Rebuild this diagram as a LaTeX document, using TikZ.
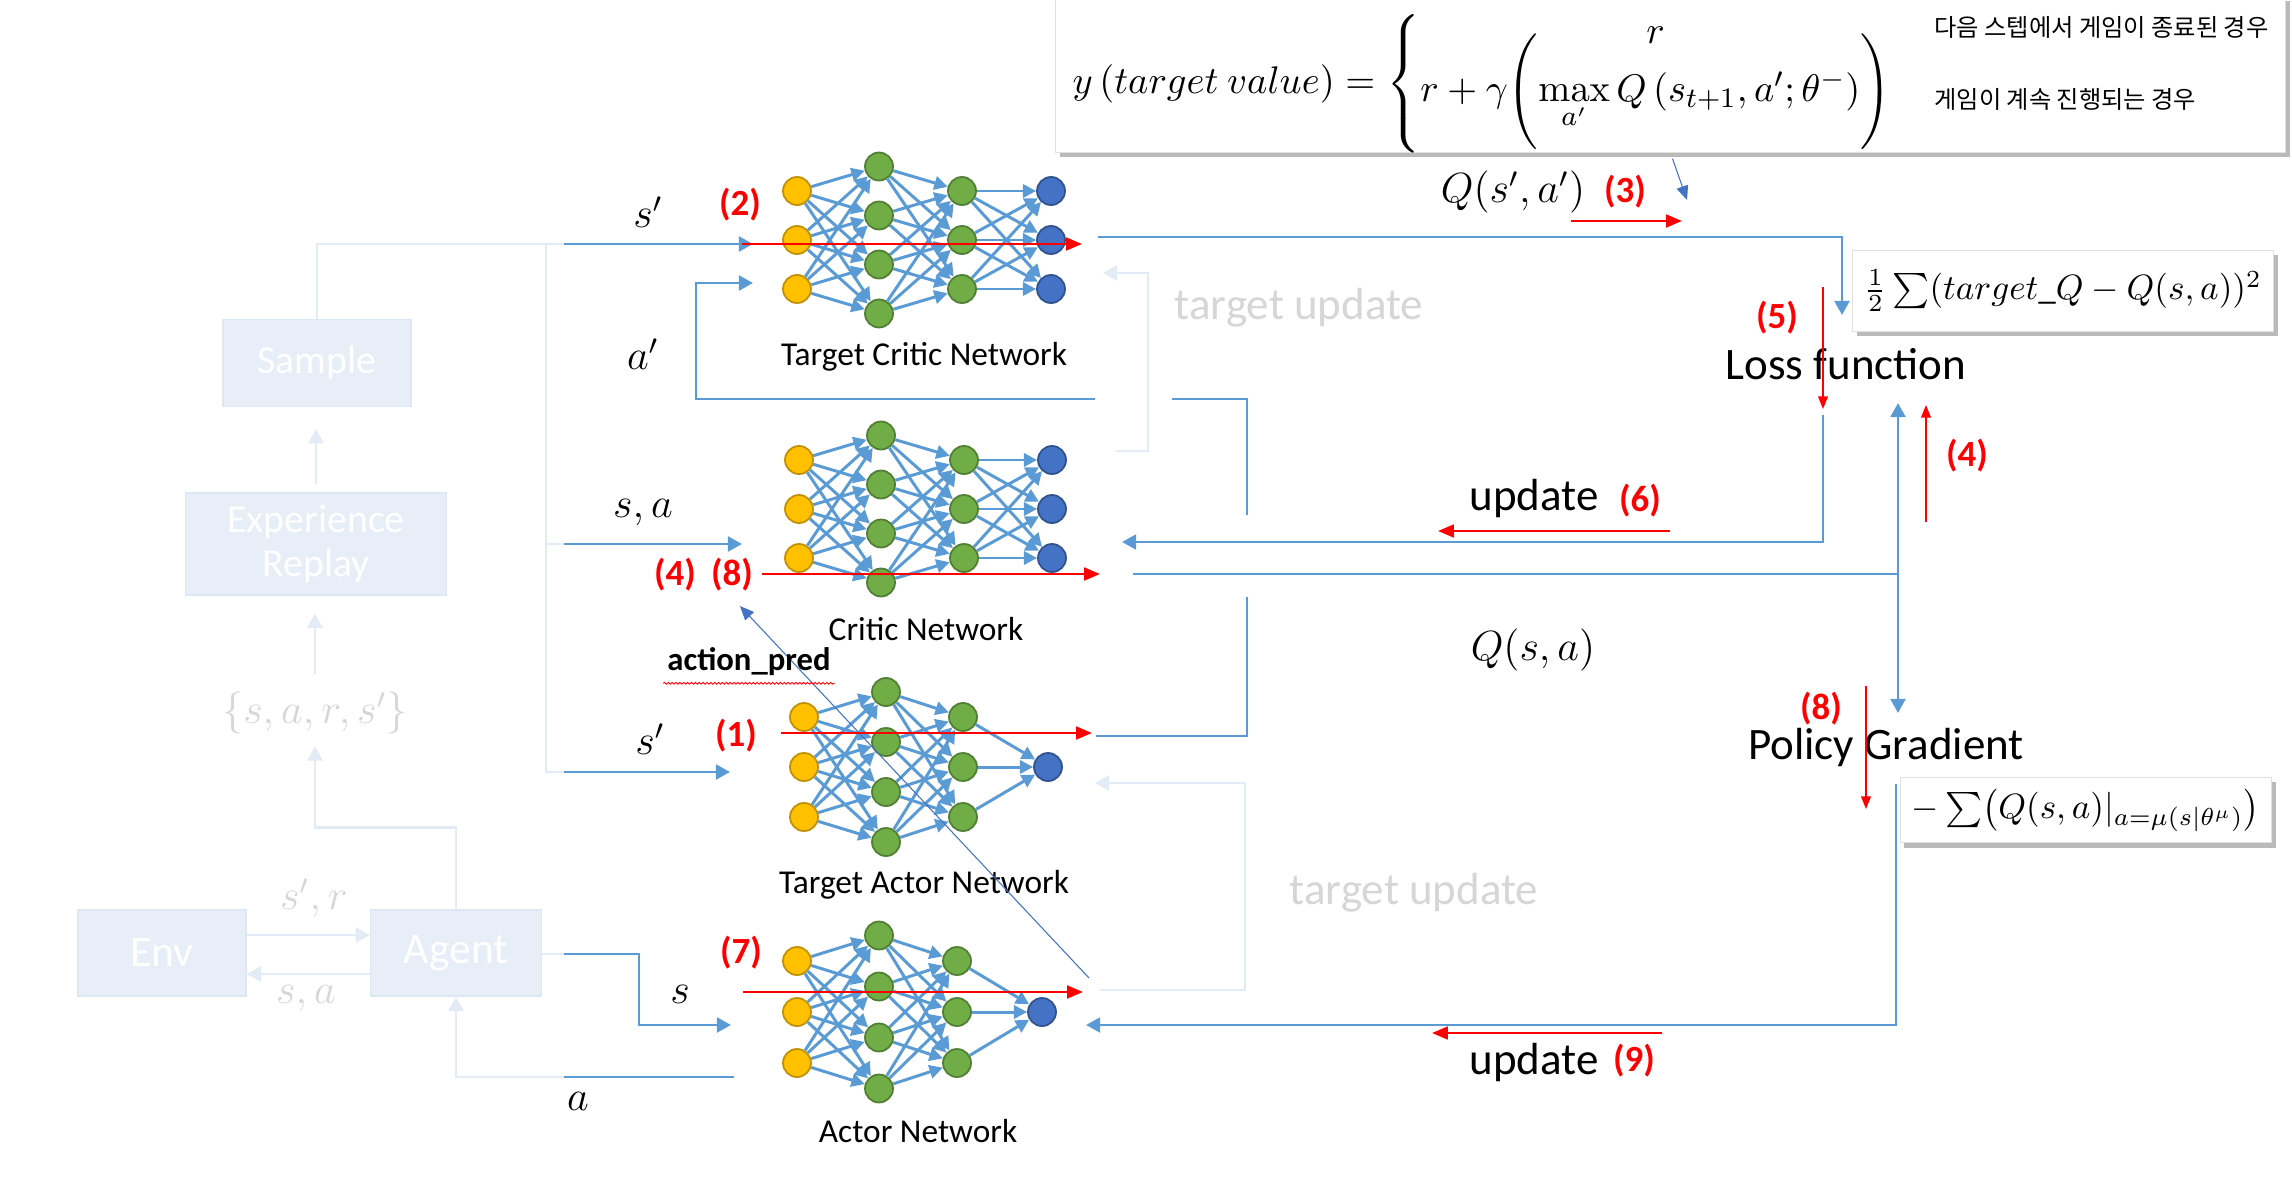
\documentclass[tikz,border=0pt]{standalone}
\usepackage{amsmath}
\usepackage[no-math]{fontspec}
\setmainfont{Carlito}
\newfontfamily\krfont{Noto Sans CJK KR}
\usetikzlibrary{arrows.meta,shadows,decorations.pathmorphing}

\definecolor{netblue}{HTML}{5B9BD5}
\definecolor{darkarrow}{HTML}{4472C4}
\definecolor{nodeyellow}{HTML}{FFC000}
\definecolor{nodeyellowd}{HTML}{BF9000}
\definecolor{nodegreen}{HTML}{70AD47}
\definecolor{nodegreend}{HTML}{507E32}
\definecolor{nodeblue}{HTML}{4472C4}
\definecolor{nodeblued}{HTML}{2F528F}
\definecolor{fadeline}{HTML}{E3EBF6}
\definecolor{fadefill}{HTML}{E7EEF8}
\definecolor{fadeedge}{HTML}{DEE7F4}
\definecolor{fadetext}{HTML}{D6D6D6}

\tikzset{
  neuron/.style={circle, minimum size=2.8mm, inner sep=0pt, line width=0.5pt},
  inp/.style={neuron, fill=nodeyellow, draw=nodeyellowd},
  hid/.style={neuron, fill=nodegreen, draw=nodegreend},
  outp/.style={neuron, fill=nodeblue, draw=nodeblued},
  netedge/.style={draw=netblue, line width=0.85pt, -{Triangle[length=3.8pt,width=3.8pt]}},
  flow/.style={draw=netblue, line width=0.8pt},
  flowarr/.style={flow, -{Triangle[length=4pt,width=4.2pt]}},
  faded/.style={draw=fadeline, line width=0.8pt},
  fadedarr/.style={faded, -{Triangle[length=4pt,width=4.2pt]}},
  thinarr/.style={draw=darkarrow, line width=0.3pt, -{Triangle[length=4pt,width=3.4pt]}},
  redarr/.style={draw=red, line width=0.75pt, -{Triangle[length=4.5pt,width=3.6pt]}},
  redthin/.style={draw=red, line width=0.4pt, -{Triangle[length=3.6pt,width=2.8pt]}},
  steplbl/.style={text=red, font=\bfseries\fontsize{10.5}{12}\selectfont},
  mathlbl/.style={font=\fontsize{12}{14}\selectfont},
  fadedlbl/.style={mathlbl, text=fadetext},
  netname/.style={font=\fontsize{9.5}{11}\selectfont},
  bigtxt/.style={font=\fontsize{12.8}{14}\selectfont},
  fadedtxt/.style={bigtxt, text=fadetext},
  fadebox/.style={fill=fadefill, draw=fadeedge, line width=0.4pt, text=white, align=center},
  mathbox/.style={fill=white, draw=black!12, line width=0.3pt,
    drop shadow={shadow xshift=1.2pt, shadow yshift=-1.4pt, opacity=0.45, fill=black!60}},
  krtxt/.style={font=\krfont\fontsize{6.9}{8}\selectfont}
}

% #1 name, #2 x, #3 y, #4 row spacing, #5 2nd hidden dx, #6 output dx, #7 output rows
\newcommand{\mlp}[7]{%
  \foreach \dy [count=\k] in {-1,0,1}
    \node[inp] (#1a\k) at ({#2}, {#3+#4*(\dy)}) {};
  \foreach \dy [count=\k] in {-1.5,-0.5,0.5,1.5}
    \node[hid] (#1b\k) at ({#2+82}, {#3+#4*(\dy)}) {};
  \foreach \dy [count=\k] in {-1,0,1}
    \node[hid] (#1c\k) at ({#2+#5}, {#3+#4*(\dy)}) {};
  \foreach \dy [count=\k] in {#7}
    \node[outp] (#1d\k) at ({#2+#6}, {#3+#4*(\dy)}) {};
  \foreach \i in {1,2,3} \foreach \j in {1,...,4}
    \draw[netedge] (#1a\i) -- (#1b\j);
  \foreach \j in {1,...,4} \foreach \i in {1,2,3}
    \draw[netedge] (#1b\j) -- (#1c\i);
  \foreach \i in {1,2,3} \foreach \dy [count=\k] in {#7}
    \draw[netedge] (#1c\i) -- (#1d\k);
}

\begin{document}
\begin{tikzpicture}[x=0.1mm, y=-0.1mm]
\useasboundingbox (0,0) rectangle (2292,1188);

% faded environment part
\node[fadebox, font=\fontsize{11.3}{12.5}\selectfont, minimum width=18.8mm, minimum height=8.7mm] (smp) at (317,363) {Sample};
\node[fadebox, font=\fontsize{11.3}{12.5}\selectfont, minimum width=26.1mm, minimum height=10.2mm] (er) at (316,544) {Experience\\Replay};
\node[fadedlbl] (srs) at (315,713) {$\{s,a,r,s'\}$};
\node[fadebox, font=\fontsize{12.4}{14}\selectfont, minimum width=16.8mm, minimum height=8.6mm] (env) at (162,953) {Env};
\node[fadebox, font=\fontsize{12.4}{14}\selectfont, minimum width=17.1mm, minimum height=8.6mm] (ag) at (456,953) {Agent};
\node[fadedlbl] at (314,898) {$s',r$};
\node[fadedlbl] at (306,999) {$s,a$};

\draw[fadedarr, shorten <=0.8mm, shorten >=2.2mm] (er.north) -- (er.north |- smp.south);
\draw[fadedarr, shorten <=0.6mm, shorten >=1.8mm] (srs.north) -- (srs.north |- er.south);
\draw[fadedarr] (ag.north) -- ++(0,-82) -| (srs.south);
\draw[fadedarr] ([yshift=1.8mm]env.east) -- ([yshift=1.8mm]ag.west);
\draw[fadedarr] ([yshift=-2.1mm]ag.west) -- ([yshift=-2.1mm]env.east);

% free ends of the connectors
\coordinate (jS) at (564,244);   \coordinate (tcS) at (753,244);
\coordinate (tcA) at (753,283);  \coordinate (aBend) at (696,399);
\coordinate (busT) at (546,244); \coordinate (busB) at (546,772);
\coordinate (jSA) at (564,544);  \coordinate (cSA) at (742,544);
\coordinate (jT) at (564,772);   \coordinate (taS) at (730,772);
\coordinate (jAg) at (564,954);  \coordinate (acS) at (731,1025);
\coordinate (acA) at (734,1077); \coordinate (jAa) at (564,1077);
\coordinate (tcOut) at (1098,237); \coordinate (lossIn) at (1842,315);
\coordinate (taOut) at (1096,736); \coordinate (gapB) at (1247,597);
\coordinate (gapT) at (1247,515);  \coordinate (gapR) at (1172,399);
\coordinate (gapL) at (1095,399);
\coordinate (lossOut) at (1823,415); \coordinate (cUpd) at (1122,542);
\coordinate (cOut) at (1133,574);  \coordinate (qJoin) at (1898,574);
\coordinate (lossUp) at (1898,403); \coordinate (pgIn) at (1898,713);
\coordinate (pgOut) at (1896,784); \coordinate (aUpd) at (1086,1025);
\coordinate (apS) at (1089,978);   \coordinate (apE) at (740,606);
\coordinate (tu1) at (1116,451);   \coordinate (tuA) at (1103,273);
\coordinate (tu2) at (1100,990);   \coordinate (tuB) at (1095,783);
\coordinate (qIn) at (1687,200);

\draw[faded] (smp.north) |- (jS);
\draw[faded] (busT) -- (busB) -- (jT);
\draw[faded] (busT |- jSA) -- (jSA);
\draw[faded] (ag.east |- jAg) -- (jAg);
\draw[fadedarr] (jAa) -| (ag.south);
\draw[fadedarr] (tu1) -- ++(32,0) |- (tuA);
\draw[fadedarr] (tu2) -- ++(145,0) |- (tuB);
\node[fadedtxt] (tup1) at (1299,308) {target update};
\node[fadedtxt] (tup2) at (1414,893) {target update};

% the four networks
\mlp{tc}{797}{240}{49}{165}{254}{-1,0,1}
\mlp{cr}{799}{509}{49}{165}{253}{-1,0,1}
\mlp{ta}{804}{767}{50}{159}{244}{0}
\mlp{ac}{797}{1012}{51}{160}{245}{0}
\node[netname] (tcname) at (924,357) {Target Critic Network};
\node[netname] (crname) at (926,629) {Critic Network};
\node[netname] (taname) at (924,885) {Target Actor Network};
\node[netname] (acname) at (918,1131) {Actor Network};

% inputs
\draw[flowarr] (jS) -- (tcS);
\draw[flowarr] (jSA) -- (cSA);
\draw[flowarr] (jT) -- (taS);
\draw[flowarr] (jAg) -- ++(75,0) |- (acS);
\draw[flow] (acA) -- (jAa);
\draw[flow] (taOut) -| (gapB);
\draw[flow] (gapT) |- (gapR);
\draw[flowarr] (gapL) -- (aBend) |- (tcA);
\node[mathlbl] at (648,212) {$s'$};
\node[mathlbl] at (643,354) {$a'$};
\node[mathlbl] at (643,513) {$s,a$};
\node[mathlbl] at (650,739) {$s'$};
\node[mathlbl] at (680,994) {$s$};
\node[mathlbl] at (578,1101) {$a$};

% target formula
\node[mathbox, anchor=north west, minimum width=123mm, minimum height=15.6mm] (fbox) at (1055,-4) {};
\node[anchor=west, inner sep=0pt, font=\fontsize{11}{13}\selectfont] (yeq) at (1072,84)
  {$y\,(target\ value) = \left\{\renewcommand{\arraystretch}{0.8}\begin{array}{@{}c@{}} r\\[-1.1ex] r+\gamma\Biggl(\max\limits_{a'} Q\,(s_{t+1}, a';\theta^{-})\Biggr)\end{array}\right.$};
\node[krtxt, anchor=west] (kr1) at (1922,27) {다음 스텝에서 게임이 종료된 경우};
\node[krtxt, anchor=west] (kr2) at (1922,99) {게임이 계속 진행되는 경우};
\draw[thinarr, shorten <=0.6mm] (fbox.south) -- (qIn);

% critic side
\node[mathlbl] (qsa2) at (1513,192) {$Q(s',a')$};
\draw[flowarr] (tcOut) -| (lossIn);
\node[mathbox, minimum width=41.4mm, minimum height=8.1mm, font=\fontsize{10}{12}\selectfont] (lossf) at (2063,291)
  {$\tfrac{1}{2}\sum(target\_Q-Q(s,a))^2$};
\node[bigtxt] (loss) at (1846,364) {Loss function};
\draw[flowarr] (lossOut) |- (cUpd);
\node[bigtxt] (upd1) at (1534,499) {update};
\draw[flow] (cOut) -- (qJoin);
\draw[flowarr] (qJoin) -- (lossUp);
\draw[flowarr] (qJoin) -- (pgIn);
\node[mathlbl] (qsa) at (1533,650) {$Q(s,a)$};

% actor side
\node[bigtxt] (pg) at (1886,748) {Policy Gradient};
\node[mathbox, minimum width=34.4mm, minimum height=5.8mm, font=\fontsize{10}{12}\selectfont] (pgf) at (2086,810)
  {$-\sum\bigl(Q(s,a)|_{a=\mu(s|\theta^{\mu})}\bigr)$};
\draw[flowarr] (pgOut) |- (aUpd);
\node[bigtxt] (upd2) at (1534,1062) {update};
\draw[thinarr] (apS) -- (apE);
\node[font=\bfseries\fontsize{9.3}{11}\selectfont, inner sep=1pt] (ap) at (749,662) {action\_pred};
\draw[red, line width=0.25pt, decorate, decoration={snake, amplitude=0.25pt, segment length=1.1pt}]
  ([yshift=-0.3mm]ap.south west) -- ([yshift=-0.3mm]ap.south east);

% numbered steps
\path (742,244) coordinate (r2a) (1082,244) coordinate (r2b)
      (781,733) coordinate (r1a) (1092,733) coordinate (r1b)
      (762,574) coordinate (r4a) (1100,574) coordinate (r4b)
      (743,992) coordinate (r7a) (1083,992) coordinate (r7b)
      (1571,221) coordinate (r3a) (1682,221) coordinate (r3b)
      (1670,531) coordinate (r6a) (1438,531) coordinate (r6b)
      (1662,1033) coordinate (r9a) (1432,1033) coordinate (r9b)
      (1823,287) coordinate (r5a) (1823,409) coordinate (r5b)
      (1926,522) coordinate (r4c) (1926,405) coordinate (r4d)
      (1866,686) coordinate (r8a) (1866,809) coordinate (r8b);
\foreach \a/\b in {r2a/r2b, r1a/r1b, r4a/r4b, r7a/r7b, r3a/r3b, r6a/r6b, r9a/r9b}
  \draw[redarr] (\a) -- (\b);
\foreach \a/\b in {r5a/r5b, r4c/r4d, r8a/r8b}
  \draw[redthin] (\a) -- (\b);
\node[steplbl] at (740,205) {(2)};
\node[steplbl] at (736,736) {(1)};
\node[steplbl] at (675,575) {(4)};
\node[steplbl] at (732,575) {(8)};
\node[steplbl] at (741,953) {(7)};
\node[steplbl] at (1625,192) {(3)};
\node[steplbl] at (1640,501) {(6)};
\node[steplbl] at (1634,1061) {(9)};
\node[steplbl] at (1777,318) {(5)};
\node[steplbl] at (1967,456) {(4)};
\node[steplbl] at (1821,709) {(8)};
\end{tikzpicture}
\end{document}
